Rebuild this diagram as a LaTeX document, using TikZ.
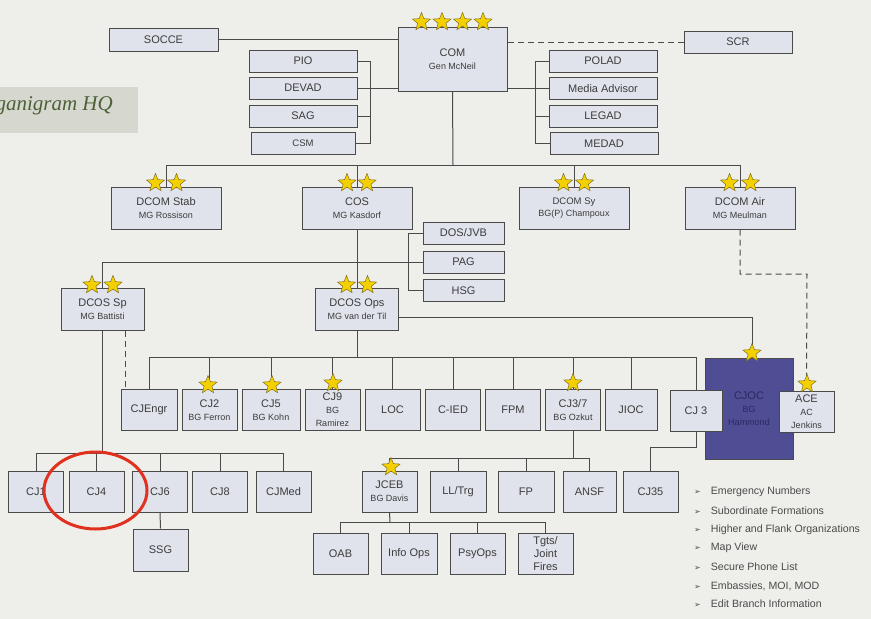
\documentclass[tikz,border=0pt]{standalone}
\usepackage{xcolor}
\definecolor{eeeeea}{HTML}{EEEEEA}
\definecolor{e0e3eb}{HTML}{E0E3EB}
\definecolor{4a4a4a}{HTML}{4A4A4A}
\definecolor{3c3c3c}{HTML}{3C3C3C}
\definecolor{4f4d94}{HTML}{4F4D94}
\definecolor{2a2960}{HTML}{2A2960}
\definecolor{f5d000}{HTML}{F5D000}
\definecolor{7f6f1f}{HTML}{7F6F1F}
\definecolor{d6d8d0}{HTML}{D6D8D0}
\definecolor{4d6138}{HTML}{4D6138}
\definecolor{e0301e}{HTML}{E0301E}
\usepackage{fontspec}
\setmainfont{Liberation Sans}
\newfontfamily\orgfont{Liberation Serif}
\newfontfamily\symfont{DejaVu Sans}
\usepackage{tikz}
\usetikzlibrary{shapes.geometric}
\newcommand{\rank}[1]{{\fontsize{9}{11}\selectfont #1}}

\begin{document}
\begin{tikzpicture}[x=1pt, y=-1pt,
                        box/.style={draw=4a4a4a, fill=e0e3eb, text=3c3c3c, line width=1pt, inner sep=0pt, align=center, font=\fontsize{11}{13}\selectfont},
                        wide/.style={box, minimum width=108pt, minimum height=22pt},
                        chief/.style={box, minimum width=110pt, minimum height=42pt},
                        deputy/.style={box, minimum width=83pt, minimum height=42pt},
                        staff/.style={box, minimum width=81pt, minimum height=22pt},
                        cell/.style={box, minimum width=55pt, minimum height=41pt},
                        gstar/.style={star, star points=5, star point ratio=2.3, minimum size=19pt, inner sep=0pt, fill=f5d000, draw=7f6f1f, line width=0.5pt},
                        wire/.style={draw=4a4a4a, line width=1pt},
                        dashwire/.style={wire, dash pattern=on 6pt off 4pt},
                        legend/.style={anchor=west, inner sep=0pt, text=4a4a4a, font=\fontsize{10.6}{12}\selectfont}]
                        \fill[eeeeea] (0,0) rectangle (871,619);
                        \useasboundingbox (0,0) rectangle (871,619);

                        \fill[d6d8d0] (0,87) rectangle (138,133);
                        \node (ORG) at (113,110) [anchor=base east, inner sep=0pt, text=4d6138, font=\orgfont\itshape\fontsize{21}{24}\selectfont] {Organigram HQ};

                        \node (COM) at (452.5,59) [box, minimum width=109pt, minimum height=64pt] {COM\\\rank{Gen McNeil}};
                        \node (SOCCE) at (163.5,39.5) [box, minimum width=109pt, minimum height=23pt] {SOCCE};
                        \node (SCR) at (738,42) [wide] {SCR};
                        \node (PIO) at (303,61) [wide] {PIO};
                        \node (DEVAD) at (303,88) [wide] {DEVAD};
                        \node (SAG) at (303,116) [wide] {SAG};
                        \node (CSM) at (303,143) [wide, minimum width=104pt, font=\fontsize{9.5}{11}\selectfont] {CSM};
                        \node (POLAD) at (603,61) [wide] {POLAD};
                        \node (MEDIA) at (603,88.5) [wide] {Media Advisor};
                        \node (LEGAD) at (603,116) [wide] {LEGAD};
                        \node (MEDAD) at (604,143.5) [wide] {MEDAD};

                        \coordinate (LB) at (370,88);
                        \coordinate (RB) at (535,88);
                        \draw[wire] (SOCCE.east) -- (SOCCE.east -| COM.west);
                        \draw[wire] (PIO.east) -- (PIO.east -| LB) -- (CSM.east -| LB) -- (CSM.east);
                        \draw[wire] (DEVAD.east) -- (DEVAD.east -| COM.west);
                        \draw[wire] (SAG.east) -- (SAG.east -| LB);
                        \draw[wire] (POLAD.west) -- (POLAD.west -| RB) -- (MEDAD.west -| RB) -- (MEDAD.west);
                        \draw[wire] (MEDIA.west) -- (MEDIA.west -| COM.east);
                        \draw[wire] (LEGAD.west) -- (LEGAD.west -| RB);
                        \draw[dashwire] (SCR.west) -- (SCR.west -| COM.east);

                        \node (DSTAB) at (166,208) [chief] {DCOM Stab\\\rank{MG Rossison}};
                        \node (COS) at (357,208) [chief] {COS\\\rank{MG Kasdorf}};
                        \node (DSY) at (574,208) [chief, font=\fontsize{9.5}{12}\selectfont] {DCOM Sy\\\rank{BG(P) Champoux}};
                        \node (DAIR) at (740,208) [chief] {DCOM Air\\\rank{MG Meulman}};

                        \coordinate (B1) at (453,165);
                        \draw[wire] (COM.south) -- (B1);
                        \draw[wire] (DSTAB.north) -- (DSTAB.north |- B1) -- (DAIR.north |- B1) -- (DAIR.north);
                        \draw[wire] (COS.north) -- (COS.north |- B1);
                        \draw[wire] (DSY.north) -- (DSY.north |- B1);

                        \node (DOS) at (463.5,233) [staff] {DOS/JVB};
                        \node (PAG) at (463.5,262) [staff] {PAG};
                        \node (HSG) at (463.5,290.5) [staff] {HSG};
                        \node (DSP) at (102.5,309) [deputy] {DCOS Sp\\\rank{MG Battisti}};
                        \node (DOPS) at (357,309) [deputy] {DCOS Ops\\\rank{MG van der Til}};

                        \coordinate (CB) at (408,262);
                        \draw[wire] (COS.south) -- (DOPS.north);
                        \draw[wire] (DSP.north) |- (PAG.west);
                        \draw[wire] (DOS.west) -- (DOS.west -| CB) -- (HSG.west -| CB) -- (HSG.west);

                        \node (CJOC) at (749,408.5) [box, fill=4f4d94, text=2a2960, minimum width=88pt, minimum height=101pt] {CJOC\\\rank{BG}\\\rank{Hammond}};
                        \node (ACE) at (806.5,411.5) [cell] {ACE\\\rank{AC}\\\rank{Jenkins}};

                        \node (CJE) at (149,410) [cell, minimum width=56pt] {CJEngr};
                        \node (CJ2) at (209.5,410) [cell] {CJ2\\\rank{BG Ferron}};
                        \node (CJ5) at (271,410) [cell, minimum width=58pt] {CJ5\\\rank{BG Kohn}};
                        \node (CJ9) at (332.5,410) [cell] {CJ9\\\rank{BG}\\\rank{Ramirez}};
                        \node (LOC) at (392.5,410) [cell] {LOC};
                        \node (CIED) at (453,410) [cell] {C-IED};
                        \node (FPM) at (513,410) [cell] {FPM};
                        \node (CJ37) at (573,410) [cell] {CJ3/7\\\rank{BG Ozkut}};
                        \node (JIOC) at (631,410) [cell, minimum width=52pt] {JIOC};
                        \node (CJ3) at (696,410.5) [cell, minimum width=52pt] {CJ 3};

                        \coordinate (B3) at (357,357);
                        \draw[wire] (DOPS.south) -- (B3);
                        \draw[wire] (CJE.north) -- (CJE.north |- B3) -- (CJ3.north |- B3) -- (CJ3.north);
                        \draw[wire] (CJ2.north) -- (CJ2.north |- B3);
                        \draw[wire] (CJ5.north) -- (CJ5.north |- B3);
                        \draw[wire] (CJ9.north) -- (CJ9.north |- B3);
                        \draw[wire] (LOC.north) -- (LOC.north |- B3);
                        \draw[wire] (CIED.north) -- (CIED.north |- B3);
                        \draw[wire] (FPM.north) -- (FPM.north |- B3);
                        \draw[wire] (CJ37.north) -- (CJ37.north |- B3);
                        \draw[wire] (JIOC.north) -- (JIOC.north |- B3);
                        \draw[wire] ([yshift=-8pt]DOPS.east) -| ([xshift=3pt]CJOC.north);
                        \draw[dashwire] ([xshift=22.5pt]DSP.south) -- ([xshift=22.5pt]DSP.south |- CJE.north);

                        \coordinate (AD) at (807,274);
                        \draw[dashwire] (DAIR.south) |- (AD) -- (ACE.north);

                        \node (CJ1) at (36,491.5) [cell] {CJ1};
                        \node (CJ4) at (96.5,491.5) [cell] {CJ4};
                        \node (CJ6) at (160,491.5) [cell] {CJ6};
                        \node (CJ8) at (220,491.5) [cell] {CJ8};
                        \node (CJMED) at (283.5,491.5) [cell] {CJMed};
                        \node (SSG) at (160.5,550) [cell, minimum height=42pt] {SSG};

                        \coordinate (B4) at (102.5,453);
                        \draw[wire] (DSP.south) -- (B4);
                        \draw[wire] (CJ1.north) -- (CJ1.north |- B4) -- (CJMED.north |- B4) -- (CJMED.north);
                        \draw[wire] (CJ4.north) -- (CJ4.north |- B4);
                        \draw[wire] (CJ6.north) -- (CJ6.north |- B4);
                        \draw[wire] (CJ8.north) -- (CJ8.north |- B4);
                        \draw[wire] (CJ6.south) -- (SSG.north);

                        \node (JCEB) at (389.5,491.5) [cell] {JCEB\\\rank{BG Davis}};
                        \node (LLTRG) at (458,491.5) [cell, minimum width=56pt] {LL/Trg};
                        \node (FP) at (526,491.5) [cell, minimum width=56pt] {FP};
                        \node (ANSF) at (589.5,491.5) [cell, minimum width=53pt] {ANSF};
                        \node (CJ35) at (650.5,491.5) [cell] {CJ35};

                        \coordinate (B5) at (573,458);
                        \draw[wire] (CJ37.south) -- (B5);
                        \draw[wire] (JCEB.north) -- (JCEB.north |- B5) -- (ANSF.north |- B5) -- (ANSF.north);
                        \draw[wire] (LLTRG.north) -- (LLTRG.north |- B5);
                        \draw[wire] (FP.north) -- (FP.north |- B5);
                        \draw[wire] (CJ3.south) -- ++(0,16) -| (CJ35.north);

                        \node (OAB) at (340.5,553.5) [cell] {OAB};
                        \node (INFO) at (409,553.5) [cell, minimum width=56pt] {Info Ops};
                        \node (PSY) at (477.5,553.5) [cell] {PsyOps};
                        \node (TGTS) at (545.5,553.5) [cell] {Tgts/\\Joint\\Fires};

                        \coordinate (B6) at (390,522);
                        \draw[wire] (JCEB.south) -- (B6);
                        \draw[wire] (OAB.north) -- (OAB.north |- B6) -- (TGTS.north |- B6) -- (TGTS.north);
                        \draw[wire] (INFO.north) -- (INFO.north |- B6);
                        \draw[wire] (PSY.north) -- (PSY.north |- B6);

                        \node (COMs1) at (421.5,22) [gstar] {};
                        \node (COMs2) at (442,22) [gstar] {};
                        \node (COMs3) at (462.5,22) [gstar] {};
                        \node (COMs4) at (483,22) [gstar] {};
                        \node (DSTABs1) at (155.5,183) [gstar] {};
                        \node (DSTABs2) at (176.5,183) [gstar] {};
                        \node (COSs1) at (347,183) [gstar] {};
                        \node (COSs2) at (367,183) [gstar] {};
                        \node (DSYs1) at (563.5,183) [gstar] {};
                        \node (DSYs2) at (584.5,183) [gstar] {};
                        \node (DAIRs1) at (729.5,183) [gstar] {};
                        \node (DAIRs2) at (750.5,183) [gstar] {};
                        \node (DSPs1) at (92,285) [gstar] {};
                        \node (DSPs2) at (113,285) [gstar] {};
                        \node (DOPSs1) at (346.5,285) [gstar] {};
                        \node (DOPSs2) at (367.5,285) [gstar] {};
                        \node (CJ2s) at (208,385) [gstar] {};
                        \node (CJ5s) at (272,385) [gstar] {};
                        \node (CJ9s) at (333,383) [gstar] {};
                        \node (CJ37s) at (573,383) [gstar] {};
                        \node (CJOCs) at (752,353) [gstar] {};
                        \node (ACEs) at (807,384) [gstar] {};
                        \node (JCEBs) at (391,467) [gstar] {};

                        \node (RING) at (95.5,490.5) [ellipse, draw=e0301e, line width=3pt, minimum width=103pt, minimum height=77pt, inner sep=0pt] {};

                        \node (L1) at (694,492) [legend] {{\symfont\fontsize{8}{8}\selectfont ➢}\hspace{10pt}Emergency Numbers};
                        \node (L2) at (694,511) [legend] {{\symfont\fontsize{8}{8}\selectfont ➢}\hspace{10pt}Subordinate Formations};
                        \node (L3) at (694,530) [legend] {{\symfont\fontsize{8}{8}\selectfont ➢}\hspace{10pt}Higher and Flank Organizations};
                        \node (L4) at (694,548) [legend] {{\symfont\fontsize{8}{8}\selectfont ➢}\hspace{10pt}Map View};
                        \node (L5) at (694,567) [legend] {{\symfont\fontsize{8}{8}\selectfont ➢}\hspace{10pt}Secure Phone List};
                        \node (L6) at (694,586) [legend] {{\symfont\fontsize{8}{8}\selectfont ➢}\hspace{10pt}Embassies, MOI, MOD};
                        \node (L7) at (694,604) [legend] {{\symfont\fontsize{8}{8}\selectfont ➢}\hspace{10pt}Edit Branch Information};
                    \end{tikzpicture}
\end{document}
